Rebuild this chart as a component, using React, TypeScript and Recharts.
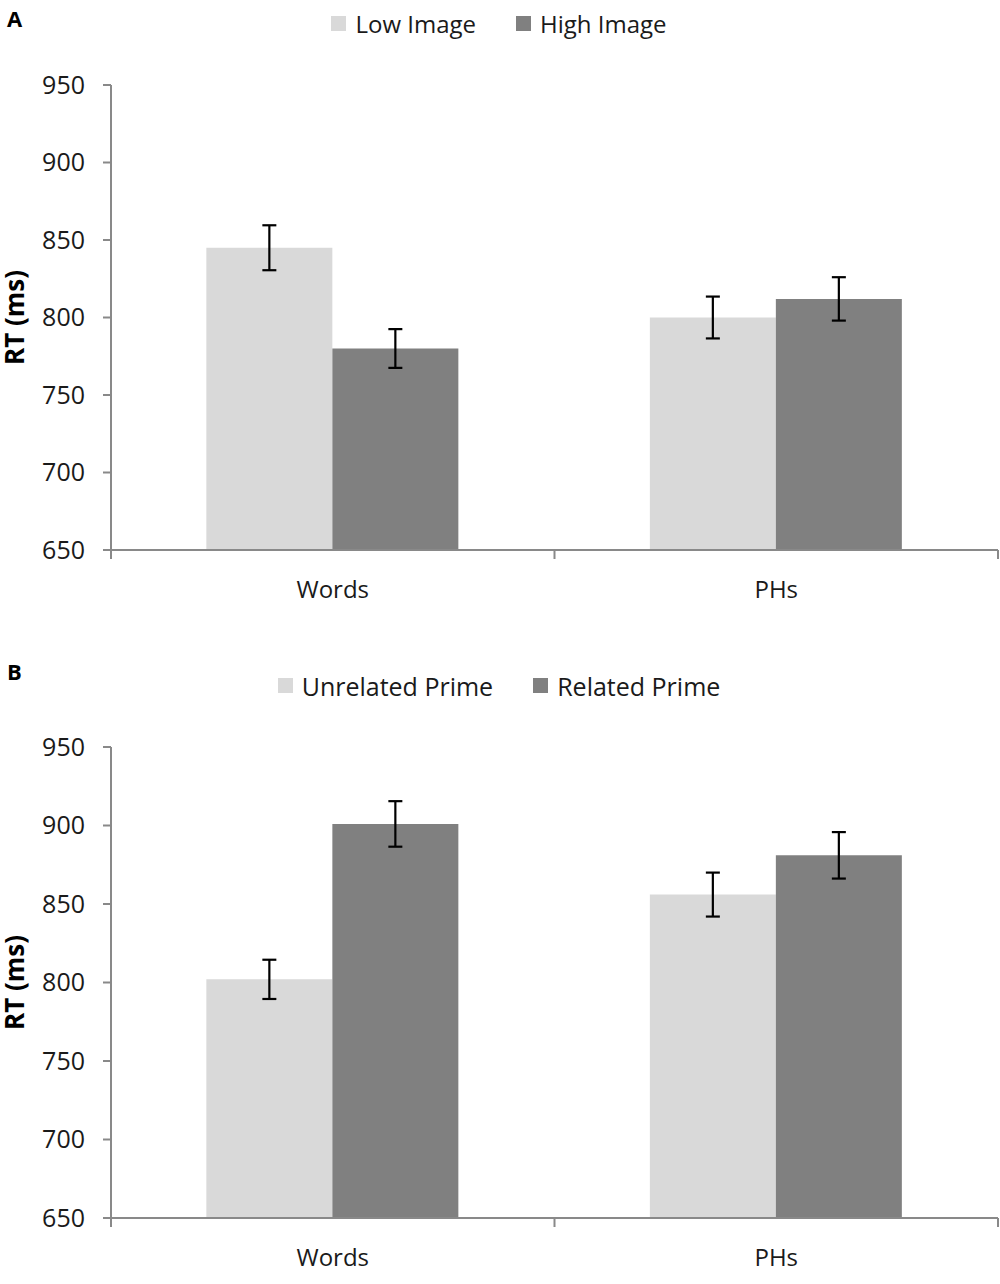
import { BarChart, Bar, XAxis, YAxis, ErrorBar, Legend } from "recharts";

const categories = ["Words", "PHs"];
const yTicks = [650, 700, 750, 800, 850, 900, 950];

// panel A
const lowImage = [845, 800];
const lowImageErr = [14.5, 13.5];
const highImage = [780, 812];
const highImageErr = [12.5, 14];

// panel B
const unrelatedPrime = [802, 856];
const unrelatedPrimeErr = [12.5, 14];
const relatedPrime = [901, 881];
const relatedPrimeErr = [14.5, 14.8];

const LIGHT = "#d9d9d9";
const DARK = "#808080";
const AXIS = "#898989";
const FONT = "'Open Sans', sans-serif";
const HALF_BAND = 443.5 / 2;
const LEGEND_H = 33;

const dataA = categories.map((c, i) => ({
  cat: c,
  low: lowImage[i],
  lowErr: lowImageErr[i],
  high: highImage[i],
  highErr: highImageErr[i],
}));

const dataB = categories.map((c, i) => ({
  cat: c,
  unrel: unrelatedPrime[i],
  unrelErr: unrelatedPrimeErr[i],
  rel: relatedPrime[i],
  relErr: relatedPrimeErr[i],
}));

function CatTick(props: any) {
  const { x, y, payload, index } = props;
  const left = x - HALF_BAND;
  const right = x + HALF_BAND;
  return (
    <g>
      <line x1={left} x2={left} y1={y} y2={y + 9} stroke={AXIS} strokeWidth={2} />
      {index === categories.length - 1 && (
        <line x1={right} x2={right} y1={y} y2={y + 9} stroke={AXIS} strokeWidth={2} />
      )}
      <text x={x} y={y + 48} textAnchor="middle" fontSize={24} fontFamily={FONT} fill="#1a1a1a">
        {payload.value}
      </text>
    </g>
  );
}

function LegendRow(props: any) {
  const { payload, gap, order, fontSize } = props;
  const items = [...(payload || [])].sort(
    (a: any, b: any) => order.indexOf(a.value) - order.indexOf(b.value)
  );
  return (
    <div style={{ display: "flex", justifyContent: "center", gap, fontFamily: FONT, fontSize, color: "#1a1a1a", height: LEGEND_H }}>
      {items.map((p: any) => (
        <div key={p.value} style={{ display: "flex", alignItems: "center" }}>
          <span style={{ width: 15, height: 15, background: p.color, display: "inline-block", marginRight: 9 }} />
          <span>{p.value}</span>
        </div>
      ))}
    </div>
  );
}

function Panel(props: any) {
  const { data, keys, names, height, top, bottom, legendTop, gap, legendSize } = props;
  return (
    <BarChart
      width={1000}
      height={height}
      data={data}
      margin={{ top: top - LEGEND_H, right: 2, left: 0, bottom }}
      barCategoryGap="21.5%"
      barGap={0}
    >
      <XAxis
        dataKey="cat"
        axisLine={{ stroke: AXIS, strokeWidth: 2 }}
        tickLine={false}
        tickSize={0}
        tickMargin={0}
        height={50}
        tick={<CatTick />}
        interval={0}
      />
      <YAxis
        domain={[650, 950]}
        ticks={yTicks}
        width={111}
        axisLine={{ stroke: AXIS, strokeWidth: 2 }}
        tickLine={{ stroke: AXIS, strokeWidth: 2 }}
        tickSize={8}
        tickMargin={18}
        tick={{ fontSize: 25, fontFamily: FONT, fill: "#1a1a1a" }}
        label={{
          value: "RT (ms)",
          angle: -90,
          position: "insideLeft",
          offset: 15,
          style: { fontSize: 26, fontWeight: 700, fontFamily: FONT, fill: "#000", textAnchor: "middle" },
        }}
      />
      <Legend
        verticalAlign="top"
        wrapperStyle={{ top: legendTop }}
        content={<LegendRow gap={gap} order={names} fontSize={legendSize} />}
      />
      <Bar dataKey={keys[0]} name={names[0]} fill={LIGHT} isAnimationActive={false}>
        <ErrorBar dataKey={keys[0] + "Err"} width={7} stroke="#000" strokeWidth={2.2} />
      </Bar>
      <Bar dataKey={keys[1]} name={names[1]} fill={DARK} isAnimationActive={false}>
        <ErrorBar dataKey={keys[1] + "Err"} width={7} stroke="#000" strokeWidth={2.2} />
      </Bar>
    </BarChart>
  );
}

export default function App() {
  const letter = { position: "absolute" as const, left: 7, fontFamily: FONT, fontWeight: 700, fontSize: 22 };
  return (
    <div style={{ position: "absolute", left: 0, top: 0, width: 1000, height: 1284, background: "#fff" }}>
      <div style={{ ...letter, top: 3 }}>A</div>
      <div style={{ ...letter, top: 656 }}>B</div>
      <div style={{ position: "absolute", left: 0, top: 0 }}>
        <Panel
          data={dataA}
          keys={["low", "high"]}
          names={["Low Image", "High Image"]}
          height={640}
          top={85}
          bottom={40}
          legendTop={7}
          gap={40}
          legendSize={24}
        />
      </div>
      <div style={{ position: "absolute", left: 0, top: 650 }}>
        <Panel
          data={dataB}
          keys={["unrel", "rel"]}
          names={["Unrelated Prime", "Related Prime"]}
          height={634}
          top={97}
          bottom={16}
          legendTop={19}
          gap={40}
          legendSize={25}
        />
      </div>
    </div>
  );
}
